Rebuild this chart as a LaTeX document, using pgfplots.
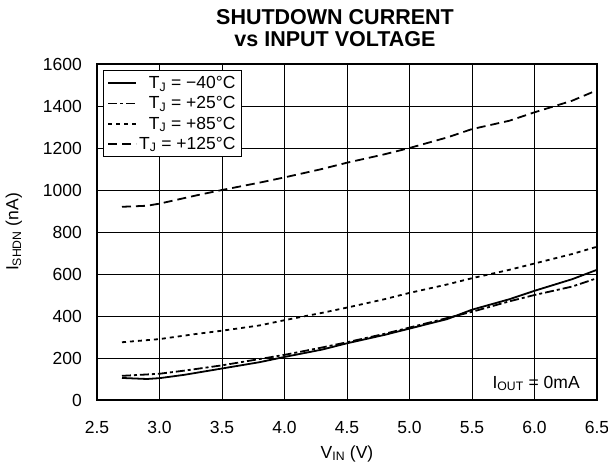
\documentclass[border=0pt]{standalone}
\usepackage{pgfplots}
\pgfplotsset{compat=1.18}
\usepackage{fontspec}
\setmainfont{Liberation Sans}
\newcommand\fs{\fontsize{17.5bp}{21bp}\selectfont}
\begin{document}
\begin{tikzpicture}
\useasboundingbox (-97bp,-71bp) rectangle (511bp,400bp);
\begin{axis}[
    scale only axis,
    width=500bp, height=336bp,
    clip mode=individual,
    xmin=2.5, xmax=6.5, ymin=0, ymax=1600,
    xtick={2.5,3,...,6.5}, ytick={0,200,...,1600},
    grid=major,
    major grid style={black, line width=0.75pt},
    major tick length=0pt,
    axis line style={line width=2pt},
    /pgf/number format/assume math mode=true,
    xticklabel style={/pgf/number format/fixed,/pgf/number format/fixed zerofill,
        /pgf/number format/precision=1, anchor=base, yshift=-33bp},
    yticklabel style={/pgf/number format/1000 sep={}, anchor=east, inner sep=0pt, xshift=-15bp},
    tick label style={font=\fs},
    label style={font=\fs},
    xlabel={V\textsubscript{IN} (V)},
    ylabel={I\textsubscript{SHDN} (nA)},
    xlabel style={at={(axis description cs:0.5,0)}, anchor=base, yshift=-58bp},
    ylabel style={at={(axis description cs:-0.157,0.5)}, anchor=base, rotate=0},
    legend style={at={(0.012,0.982)}, anchor=north west, draw=black, line width=0.8pt,
        font=\fs, row sep=2.5bp, inner sep=4bp, cells={anchor=east}},
    legend cell align=right,
    legend image post style={line width=1.8pt},
    legend image code/.code={\draw[#1] (0bp,0bp) -- (28bp,0bp);},
]
\addplot[black, solid, line width=1.8pt] coordinates {(2.7,105) (2.9,100) (3.0,104) (3.2,120) (3.5,150) (3.8,180) (4.0,205) (4.3,240) (4.5,270) (4.8,310) (5.0,340) (5.3,385) (5.5,430) (5.8,480) (6.0,520) (6.3,575) (6.5,620)};
\addlegendentry{T\textsubscript{J} = −40°C}
\addplot[black, line width=1.8pt, dash pattern=on 9bp off 3bp on 3bp off 3bp] coordinates {(2.7,115) (3.0,125) (3.2,140) (3.5,165) (3.8,195) (4.0,215) (4.3,250) (4.5,275) (4.8,315) (5.0,345) (5.3,390) (5.5,420) (5.8,470) (6.0,500) (6.3,540) (6.5,580)};
\addlegendentry{T\textsubscript{J} = +25°C}
\addplot[black, line width=1.8pt, dash pattern=on 4bp off 4bp] coordinates {(2.7,275) (3.0,290) (3.3,315) (3.5,330) (3.8,355) (4.0,380) (4.3,415) (4.5,440) (4.8,480) (5.0,510) (5.3,550) (5.5,580) (5.8,620) (6.0,650) (6.3,695) (6.5,730)};
\addlegendentry{T\textsubscript{J} = +85°C}
\addplot[black, line width=1.8pt, dash pattern=on 9bp off 5bp] coordinates {(2.7,920) (2.9,925) (3.0,935) (3.3,975) (3.5,1000) (3.8,1035) (4.0,1060) (4.3,1100) (4.5,1130) (4.8,1170) (5.0,1200) (5.3,1250) (5.5,1290) (5.8,1330) (6.0,1370) (6.3,1425) (6.5,1475)};
\addlegendentry{T\textsubscript{J} = +125°C}
\node[anchor=base east, font=\fs] at (axis cs:6.39,57) {I\textsubscript{OUT} = 0mA};
\node[anchor=base, font=\fontsize{21.5bp}{22bp}\selectfont\bfseries] at (rel axis cs:0.476,1) [yshift=39bp] {SHUTDOWN CURRENT};
\node[anchor=base, font=\fontsize{21.5bp}{22bp}\selectfont\bfseries] at (rel axis cs:0.476,1) [yshift=17bp] {vs INPUT VOLTAGE};
\end{axis}
\end{tikzpicture}
\end{document}
